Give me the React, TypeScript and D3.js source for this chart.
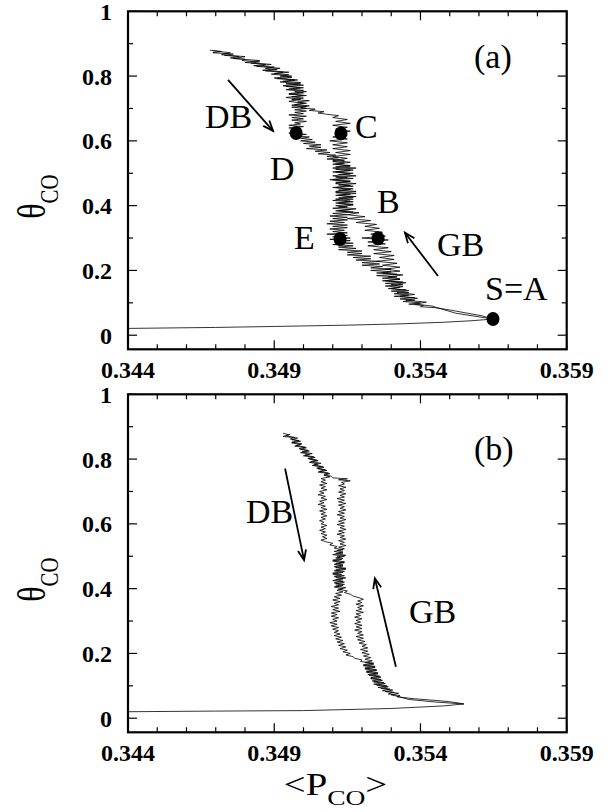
import React from "react";
import * as d3 from "d3";

// ---------- axis ticks ----------
const pcoTickValues = [0.344, 0.349, 0.354, 0.359];
const pcoTickLabels = ["0.344", "0.349", "0.354", "0.359"];
const thetaTickValues = [0, 0.2, 0.4, 0.6, 0.8, 1];
const thetaTickLabels = ["0", "0.2", "0.4", "0.6", "0.8", "1"];
const pcoMinorTicks = [0.345, 0.346, 0.347, 0.348, 0.35, 0.351, 0.352, 0.353, 0.355, 0.356, 0.357, 0.358];
const thetaMinorTicks = [0.1, 0.3, 0.5, 0.7, 0.9];

// ---------- panel (a) ----------
const dbA: [number, number][] = [
  [0.34680,0.880],[0.34720,0.876],[0.34690,0.872],[0.34760,0.868],[0.34730,0.864],[0.34780,0.860],[0.34750,0.856],[0.34800,0.852],[0.34790,0.848],[0.34850,0.844],[0.34820,0.840],[0.34870,0.836],[0.34830,0.832],[0.34900,0.828],[0.34870,0.824],[0.34910,0.820],[0.34870,0.816],[0.34930,0.812],[0.34900,0.808],[0.34950,0.804],[0.34920,0.800],[0.34960,0.796],[0.34910,0.792],[0.34970,0.788],[0.34930,0.784],[0.34990,0.780],[0.34940,0.776],[0.35000,0.772],[0.34940,0.768],[0.34990,0.764],[0.34950,0.760],[0.35000,0.756],[0.34970,0.752],[0.35000,0.748],[0.34950,0.744],[0.35010,0.740],[0.34960,0.736],[0.35000,0.732],[0.34960,0.728],[0.35020,0.724],[0.34980,0.720],[0.35010,0.716],[0.34970,0.712],[0.35020,0.708],[0.34960,0.704],[0.35010,0.700],[0.34970,0.696],[0.35010,0.692],[0.34970,0.688],[0.35000,0.684],[0.34950,0.680],[0.35010,0.676],[0.34960,0.672],[0.35000,0.668],[0.34960,0.664],[0.35010,0.660],[0.34970,0.656],[0.34990,0.652],[0.34950,0.648],[0.35000,0.644],[0.34950,0.640],[0.34990,0.636],[0.34960,0.632],[0.34990,0.628],[0.34950,0.624],[0.35010,0.620],[0.34960,0.616],[0.35020,0.612],[0.34990,0.608],[0.35030,0.604],[0.34990,0.600],[0.35040,0.596],[0.35000,0.592],[0.35060,0.588],[0.35020,0.584],[0.35060,0.580],[0.35010,0.576],[0.35080,0.572],[0.35040,0.568],[0.35090,0.564],[0.35050,0.560],[0.35110,0.556],[0.35080,0.552],[0.35120,0.548],[0.35080,0.544],[0.35140,0.540],[0.35100,0.536],[0.35140,0.532],[0.35100,0.528],[0.35160,0.524],[0.35110,0.520],[0.35180,0.516],[0.35110,0.512],[0.35160,0.508],[0.35100,0.504],[0.35170,0.500],[0.35120,0.496],[0.35180,0.492],[0.35110,0.488],[0.35170,0.484],[0.35100,0.480],[0.35160,0.476],[0.35110,0.472],[0.35180,0.468],[0.35120,0.464],[0.35170,0.460],[0.35100,0.456],[0.35170,0.452],[0.35120,0.448],[0.35180,0.444],[0.35110,0.440],[0.35160,0.436],[0.35110,0.432],[0.35180,0.428],[0.35120,0.424],[0.35170,0.420],[0.35100,0.416],[0.35170,0.412],[0.35120,0.408],[0.35170,0.404],[0.35110,0.400],[0.35150,0.396],[0.35100,0.392],[0.35160,0.388],[0.35110,0.384],[0.35170,0.380],[0.35100,0.376],[0.35150,0.372],[0.35090,0.368],[0.35150,0.364],[0.35100,0.360],[0.35150,0.356],[0.35090,0.352],[0.35140,0.348],[0.35080,0.344],[0.35150,0.340],[0.35100,0.336],[0.35150,0.332],[0.35090,0.328],[0.35140,0.324],[0.35100,0.320],[0.35150,0.316],[0.35080,0.312],[0.35150,0.308],[0.35100,0.304],[0.35160,0.300],[0.35090,0.296],[0.35160,0.292],[0.35110,0.288],[0.35170,0.284],[0.35100,0.280],[0.35170,0.276],[0.35120,0.272],[0.35180,0.268],[0.35120,0.264],[0.35200,0.260],[0.35150,0.256],[0.35200,0.252],[0.35150,0.248],[0.35230,0.244],[0.35170,0.240],[0.35230,0.236],[0.35180,0.232],[0.35260,0.228],[0.35200,0.224],[0.35260,0.220],[0.35200,0.216],[0.35270,0.212],[0.35230,0.208],[0.35300,0.204],[0.35230,0.200],[0.35300,0.196],[0.35250,0.192],[0.35320,0.188],[0.35250,0.184],[0.35320,0.180],[0.35270,0.176],[0.35330,0.172],[0.35270,0.168],[0.35340,0.164],[0.35280,0.160],[0.35340,0.156],[0.35280,0.152],[0.35330,0.148],[0.35290,0.144],[0.35350,0.140],[0.35300,0.136],[0.35360,0.132],[0.35310,0.128],[0.35360,0.124],[0.35310,0.120],[0.35380,0.116],[0.35330,0.112],[0.35380,0.108],[0.35340,0.104],[0.35400,0.100],[0.35360,0.096],[0.35410,0.092],[0.35400,0.088],[0.35450,0.085],[0.35500,0.078],[0.35560,0.068],[0.35610,0.060],[0.35648,0.050]
];
const gbA: [number, number][] = [
  [0.35648,0.050],[0.35520,0.068],[0.35450,0.087],[0.35440,0.090],[0.35380,0.096],[0.35420,0.102],[0.35350,0.108],[0.35390,0.114],[0.35330,0.120],[0.35380,0.126],[0.35320,0.132],[0.35360,0.138],[0.35300,0.144],[0.35340,0.150],[0.35300,0.156],[0.35350,0.162],[0.35280,0.168],[0.35330,0.174],[0.35290,0.180],[0.35340,0.186],[0.35270,0.192],[0.35330,0.198],[0.35280,0.204],[0.35330,0.210],[0.35270,0.216],[0.35320,0.222],[0.35250,0.228],[0.35310,0.234],[0.35260,0.240],[0.35310,0.246],[0.35240,0.252],[0.35300,0.258],[0.35240,0.264],[0.35290,0.270],[0.35220,0.276],[0.35280,0.282],[0.35220,0.288],[0.35290,0.294],[0.35200,0.300],[0.35280,0.306],[0.35230,0.312],[0.35270,0.318],[0.35210,0.324],[0.35260,0.330],[0.35210,0.336],[0.35250,0.342],[0.35180,0.348],[0.35230,0.354],[0.35150,0.360],[0.35210,0.366],[0.35150,0.372],[0.35190,0.378],[0.35120,0.384],[0.35180,0.390],[0.35120,0.396],[0.35170,0.402],[0.35110,0.408],[0.35160,0.414],[0.35110,0.420],[0.35170,0.426],[0.35120,0.432],[0.35180,0.438],[0.35110,0.444],[0.35160,0.450],[0.35110,0.456],[0.35160,0.462],[0.35110,0.468],[0.35160,0.474],[0.35090,0.480],[0.35150,0.486],[0.35100,0.492],[0.35160,0.498],[0.35110,0.504],[0.35170,0.510],[0.35100,0.516],[0.35160,0.522],[0.35110,0.528],[0.35160,0.534],[0.35100,0.540],[0.35150,0.546],[0.35100,0.552],[0.35160,0.558],[0.35110,0.564],[0.35160,0.570],[0.35100,0.576],[0.35150,0.582],[0.35100,0.588],[0.35150,0.594],[0.35090,0.600],[0.35150,0.606],[0.35100,0.612],[0.35150,0.618],[0.35110,0.624],[0.35160,0.630],[0.35110,0.636],[0.35150,0.642],[0.35100,0.648],[0.35160,0.654],[0.35110,0.660],[0.35150,0.666],[0.35100,0.672],[0.35120,0.678],[0.35080,0.682],[0.35050,0.686],[0.35070,0.690],[0.35020,0.694],[0.35040,0.698],[0.34990,0.702],[0.35010,0.706],[0.34960,0.710],[0.35000,0.716],[0.34950,0.722],[0.34990,0.728],[0.34940,0.734],[0.35000,0.740],[0.34950,0.746],[0.35010,0.752],[0.34940,0.758],[0.35000,0.764],[0.34930,0.770],[0.34990,0.776],[0.34920,0.782],[0.34980,0.788],[0.34900,0.794],[0.34960,0.800],[0.34890,0.806],[0.34950,0.812],[0.34860,0.818],[0.34920,0.824],[0.34840,0.830],[0.34890,0.836],[0.34800,0.842],[0.34850,0.848],[0.34760,0.854],[0.34800,0.860],[0.34720,0.866],[0.34750,0.872],[0.34690,0.878]
];
const lowA: [number, number][] = [
  [0.344,0.021],[0.347,0.024],[0.349,0.027],[0.3515,0.031],[0.3533,0.035],[0.3548,0.040],[0.3558,0.045],[0.35648,0.050]
];
const markerLabelsA = ["D", "C", "E", "B", "S"];
const markerPcoA = [0.34975, 0.35128, 0.35125, 0.35255, 0.35648];
const markerThetaA = [0.6245, 0.623, 0.297, 0.299, 0.050];

// ---------- panel (b) ----------
const dbB: [number, number][] = [
  [0.34930,0.880],[0.34950,0.875],[0.34930,0.870],[0.34980,0.865],[0.34960,0.860],[0.34990,0.855],[0.34960,0.850],[0.34990,0.845],[0.34970,0.840],[0.35010,0.835],[0.34990,0.830],[0.35020,0.825],[0.34990,0.820],[0.35020,0.815],[0.35000,0.810],[0.35040,0.805],[0.35020,0.800],[0.35050,0.795],[0.35020,0.790],[0.35050,0.785],[0.35030,0.780],[0.35070,0.775],[0.35050,0.770],[0.35080,0.765],[0.35050,0.760],[0.35090,0.755],[0.35070,0.750],[0.35090,0.745],
  [0.35060,0.740],[0.35075,0.735],[0.35060,0.730],[0.35080,0.725],[0.35055,0.720],[0.35075,0.715],[0.35060,0.710],[0.35080,0.705],[0.35055,0.700],[0.35070,0.695],[0.35050,0.690],[0.35075,0.685],[0.35060,0.680],[0.35080,0.675],[0.35055,0.670],[0.35070,0.665],[0.35050,0.660],[0.35075,0.655],[0.35060,0.650],[0.35080,0.645],[0.35055,0.640],[0.35075,0.635],[0.35060,0.630],[0.35080,0.625],[0.35060,0.620],[0.35075,0.615],[0.35055,0.610],[0.35070,0.605],[0.35060,0.600],[0.35080,0.595],[0.35060,0.590],[0.35075,0.585],[0.35055,0.580],[0.35075,0.575],[0.35060,0.570],[0.35080,0.565],[0.35065,0.560],[0.35080,0.555],[0.35060,0.550],[0.35075,0.545],
  [0.35100,0.540],[0.35090,0.535],[0.35115,0.530],[0.35105,0.525],
  [0.35135,0.520],[0.35105,0.515],[0.35135,0.510],[0.35100,0.505],[0.35140,0.500],[0.35110,0.495],[0.35130,0.490],[0.35100,0.485],[0.35140,0.480],[0.35105,0.475],[0.35135,0.470],[0.35110,0.465],[0.35145,0.460],[0.35105,0.455],[0.35135,0.450],[0.35100,0.445],[0.35140,0.440],[0.35110,0.435],[0.35135,0.430],[0.35100,0.425],[0.35140,0.420],[0.35110,0.415],[0.35135,0.410],[0.35105,0.405],[0.35135,0.400],
  [0.35115,0.395],[0.35135,0.390],[0.35110,0.385],[0.35130,0.380],[0.35105,0.375],[0.35125,0.370],[0.35100,0.365],[0.35125,0.360],[0.35105,0.355],[0.35120,0.350],[0.35095,0.345],[0.35120,0.340],[0.35100,0.335],[0.35125,0.330],[0.35095,0.325],[0.35115,0.320],[0.35095,0.315],[0.35120,0.310],[0.35100,0.305],[0.35115,0.300],[0.35090,0.295],[0.35115,0.290],[0.35095,0.285],[0.35120,0.280],[0.35100,0.275],[0.35120,0.270],[0.35105,0.265],[0.35125,0.260],[0.35105,0.255],[0.35130,0.250],[0.35110,0.245],[0.35135,0.240],[0.35115,0.235],[0.35140,0.230],[0.35120,0.225],[0.35145,0.220],[0.35125,0.215],[0.35150,0.210],[0.35135,0.205],[0.35160,0.200],[0.35145,0.195],[0.35170,0.190],[0.35175,0.185],[0.35200,0.180],[0.35195,0.175],
  [0.35240,0.170],[0.35205,0.165],[0.35245,0.160],[0.35210,0.155],[0.35250,0.150],[0.35215,0.145],[0.35255,0.140],[0.35220,0.135],[0.35260,0.130],[0.35230,0.125],[0.35265,0.120],[0.35235,0.115],[0.35275,0.110],[0.35240,0.105],[0.35285,0.100],[0.35255,0.095],[0.35295,0.090],[0.35270,0.085],[0.35310,0.080],[0.35290,0.075],[0.35330,0.070],[0.35320,0.066],[0.35380,0.060],[0.35450,0.055],[0.35500,0.051],[0.35530,0.047],[0.35548,0.044]
];
const gbB: [number, number][] = [
  [0.35548,0.044],[0.35450,0.050],[0.35360,0.058],[0.35320,0.068],[0.35300,0.072],[0.35325,0.077],[0.35280,0.082],[0.35305,0.087],[0.35265,0.092],[0.35290,0.097],[0.35250,0.102],[0.35280,0.107],[0.35240,0.112],[0.35270,0.117],[0.35230,0.122],[0.35265,0.127],[0.35225,0.132],[0.35255,0.137],[0.35215,0.142],[0.35250,0.147],[0.35210,0.152],[0.35245,0.157],[0.35205,0.162],[0.35240,0.167],[0.35210,0.172],[0.35235,0.177],
  [0.35210,0.182],[0.35230,0.187],[0.35205,0.192],[0.35225,0.197],[0.35200,0.202],[0.35220,0.207],[0.35195,0.212],[0.35220,0.217],[0.35200,0.222],[0.35215,0.227],[0.35190,0.232],[0.35210,0.237],[0.35185,0.242],[0.35205,0.247],[0.35180,0.252],[0.35205,0.257],[0.35185,0.262],[0.35200,0.267],[0.35175,0.272],[0.35200,0.277],[0.35180,0.282],[0.35200,0.287],[0.35175,0.292],[0.35195,0.297],[0.35180,0.302],[0.35200,0.307],[0.35175,0.312],[0.35195,0.317],[0.35180,0.322],[0.35205,0.327],[0.35180,0.332],[0.35200,0.337],[0.35185,0.342],[0.35205,0.347],[0.35180,0.352],[0.35200,0.357],[0.35185,0.362],[0.35205,0.367],[0.35190,0.372],
  [0.35170,0.377],[0.35160,0.383],[0.35140,0.388],[0.35150,0.393],[0.35120,0.398],
  [0.35145,0.403],[0.35110,0.408],[0.35140,0.413],[0.35105,0.418],[0.35135,0.423],[0.35110,0.428],[0.35145,0.433],[0.35105,0.438],[0.35130,0.443],[0.35100,0.448],[0.35140,0.453],[0.35110,0.458],[0.35145,0.463],[0.35105,0.468],[0.35135,0.473],[0.35110,0.478],[0.35140,0.483],[0.35100,0.488],[0.35135,0.493],[0.35115,0.498],[0.35145,0.503],[0.35110,0.508],[0.35135,0.513],[0.35115,0.518],
  [0.35140,0.523],[0.35120,0.528],[0.35145,0.533],[0.35125,0.538],[0.35140,0.543],[0.35120,0.548],[0.35145,0.553],[0.35125,0.558],[0.35140,0.563],[0.35115,0.568],[0.35140,0.573],[0.35120,0.578],[0.35145,0.583],[0.35125,0.588],[0.35140,0.593],[0.35115,0.598],[0.35140,0.603],[0.35120,0.608],[0.35145,0.613],[0.35125,0.618],[0.35140,0.623],[0.35115,0.628],[0.35140,0.633],[0.35120,0.638],[0.35145,0.643],[0.35125,0.648],[0.35140,0.653],[0.35120,0.658],[0.35145,0.663],[0.35120,0.668],[0.35140,0.673],[0.35115,0.678],[0.35140,0.683],[0.35125,0.688],[0.35145,0.693],[0.35120,0.698],[0.35140,0.703],[0.35125,0.708],[0.35145,0.713],[0.35120,0.718],[0.35140,0.723],[0.35130,0.728],[0.35160,0.733],[0.35120,0.736],[0.35150,0.739],[0.35100,0.742],
  [0.35095,0.747],[0.35070,0.752],[0.35085,0.757],[0.35055,0.762],[0.35075,0.767],[0.35045,0.772],[0.35065,0.777],[0.35035,0.782],[0.35060,0.787],[0.35025,0.792],[0.35045,0.797],[0.35015,0.802],[0.35035,0.807],[0.35005,0.812],[0.35030,0.817],[0.34995,0.822],[0.35015,0.827],[0.34985,0.832],[0.35005,0.837],[0.34975,0.842],[0.34995,0.847],[0.34960,0.852],[0.34985,0.857],[0.34955,0.862],[0.34970,0.867],[0.34940,0.872],[0.34955,0.877]
];
const lowB: [number, number][] = [
  [0.344,0.020],[0.347,0.022],[0.350,0.0235],[0.353,0.030],[0.3548,0.038],[0.35548,0.044]
];

// annotation arrows [pco0, theta0, pco1, theta1]
const arrowsA = [[0.34742, 0.788, 0.34896, 0.631], [0.35460, 0.183, 0.35347, 0.3165]];
const arrowsB = [[0.34937, 0.771, 0.35002, 0.488], [0.35316, 0.159, 0.35244, 0.432]];

const FONT = "'Liberation Serif', 'Times New Roman', Times, serif";
const X0 = 128, X1 = 566.7;

type Ann = { text: string; x: number; y: number };

function Panel({ top, bottom, traces, markers, arrows, anns, tag }: any) {
  const x = d3.scaleLinear().domain([0.344, 0.359]).range([X0, X1]);
  const y = d3.scaleLinear().domain([-0.0435, 1]).range([bottom, top]);
  const line = d3.line<[number, number]>().x((d) => x(d[0])).y((d) => y(d[1]));
  const clipId = "clip" + tag;
  const arrowEls = arrows.map((a: number[], i: number) => {
    const x0 = x(a[0]), y0 = y(a[1]), x1 = x(a[2]), y1 = y(a[3]);
    const ang = Math.atan2(y1 - y0, x1 - x0);
    const L = 11, s = 0.38;
    const h1 = [x1 - L * Math.cos(ang - s), y1 - L * Math.sin(ang - s)];
    const h2 = [x1 - L * Math.cos(ang + s), y1 - L * Math.sin(ang + s)];
    return (
      <g key={i} stroke="#000" strokeWidth={1.8} fill="none">
        <line x1={x0} y1={y0} x2={x1} y2={y1} />
        <polyline points={`${h1[0]},${h1[1]} ${x1},${y1} ${h2[0]},${h2[1]}`} />
      </g>
    );
  });
  return (
    <g>
      <defs>
        <clipPath id={clipId}>
          <rect x={X0} y={top} width={X1 - X0} height={bottom - top} />
        </clipPath>
      </defs>
      <g clipPath={`url(#${clipId})`}>
        {traces.map((t: [number, number][], i: number) => (
          <path key={i} d={line(t) || ""} fill="none" stroke="#000" strokeWidth={0.8} strokeLinejoin="miter" />
        ))}
      </g>
      {markers.map((m: any, i: number) => (
        <ellipse key={i} cx={x(m.p)} cy={y(m.t)} rx={6.5} ry={7} fill="#000" />
      ))}
      {arrowEls}
      <g stroke="#000" strokeWidth={1.2}>
        {pcoTickValues.map((v, i) => (
          <g key={"xm" + i}>
            <line x1={x(v)} x2={x(v)} y1={bottom} y2={bottom - 9} />
            <line x1={x(v)} x2={x(v)} y1={top} y2={top + 9} />
          </g>
        ))}
        {pcoMinorTicks.map((v, i) => (
          <g key={"xn" + i}>
            <line x1={x(v)} x2={x(v)} y1={bottom} y2={bottom - 5} />
            <line x1={x(v)} x2={x(v)} y1={top} y2={top + 5} />
          </g>
        ))}
        {thetaTickValues.map((v, i) => (
          <g key={"ym" + i}>
            <line x1={X0} x2={X0 + 9} y1={y(v)} y2={y(v)} />
            <line x1={X1} x2={X1 - 9} y1={y(v)} y2={y(v)} />
          </g>
        ))}
        {thetaMinorTicks.map((v, i) => (
          <g key={"yn" + i}>
            <line x1={X0} x2={X0 + 5} y1={y(v)} y2={y(v)} />
            <line x1={X1} x2={X1 - 5} y1={y(v)} y2={y(v)} />
          </g>
        ))}
      </g>
      <rect x={X0} y={top} width={X1 - X0} height={bottom - top} fill="none" stroke="#000" strokeWidth={2.2} />
      <g fontFamily={FONT} fontSize={24} fontWeight="bold" fill="#000">
        {thetaTickValues.map((v, i) => (
          <text key={"yl" + i} x={112} y={y(v) + 8.5} textAnchor="end">{thetaTickLabels[i]}</text>
        ))}
        {pcoTickValues.map((v, i) => (
          <text key={"xl" + i} x={x(v)} y={bottom + 29} textAnchor="middle">{pcoTickLabels[i]}</text>
        ))}
      </g>
      <text transform={`translate(45,${top + 207.5}) rotate(-90) scale(0.8,1)`} fontFamily={FONT} fill="#000">
        <tspan fontSize={40}>θ</tspan>
        <tspan fontSize={26} dy={13}>CO</tspan>
      </text>
      <g fontFamily={FONT} fontSize={34} fill="#000">
        {anns.map((a: Ann, i: number) => (
          <text key={i} x={a.x} y={a.y}>{a.text}</text>
        ))}
      </g>
    </g>
  );
}

export default function App() {
  const markersA = markerLabelsA.map((l, i) => ({ label: l, p: markerPcoA[i], t: markerThetaA[i] }));
  const annsA: Ann[] = [
    { text: "(a)", x: 474, y: 68 },
    { text: "DB", x: 205, y: 128 },
    { text: "D", x: 270, y: 180 },
    { text: "C", x: 355, y: 138 },
    { text: "B", x: 377, y: 213 },
    { text: "E", x: 294, y: 249 },
    { text: "GB", x: 437, y: 256 },
    { text: "S=A", x: 485, y: 300 },
  ];
  const annsB: Ann[] = [
    { text: "(b)", x: 474, y: 460 },
    { text: "DB", x: 246, y: 523 },
    { text: "GB", x: 409, y: 623 },
  ];
  return (
    <svg width={609} height={812} style={{ position: "absolute", left: 0, top: 0, background: "#fff" }}>
      <rect x={0} y={0} width={609} height={812} fill="#fff" />
      <Panel top={11.3} bottom={349.3} traces={[lowA, gbA, dbA]} markers={markersA} arrows={arrowsA} anns={annsA} tag="a" />
      <Panel top={394.3} bottom={732.3} traces={[lowB, gbB, dbB]} markers={[]} arrows={arrowsB} anns={annsB} tag="b" />
      <text transform="translate(335.5,795) scale(1.25,1)" textAnchor="middle" fontFamily={FONT} fill="#000">
        <tspan fontSize={31}>&lt;</tspan>
        <tspan fontSize={31}>P</tspan>
        <tspan fontSize={22} dy={10}>CO</tspan>
        <tspan fontSize={31} dy={-10}>&gt;</tspan>
      </text>
    </svg>
  );
}
